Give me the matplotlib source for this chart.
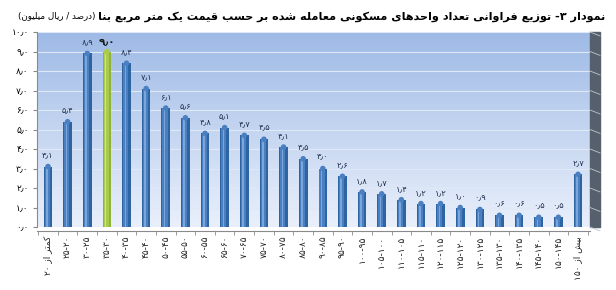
import matplotlib
matplotlib.use("Agg")
import matplotlib.pyplot as plt
import matplotlib.transforms as mtrans
import numpy as np
from matplotlib.patches import Rectangle

# price bins (million rial per m2) and share of traded units (percent)
low_edge = 20
high_edge = 150
bin_edges = [20, 25, 30, 35, 40, 45, 50, 55, 60, 65, 70, 75, 80, 85, 90,
             95, 100, 105, 110, 115, 120, 125, 130, 135, 140, 145, 150]
values = [3.1, 5.4, 8.9, 9.0, 8.4, 7.1, 6.1, 5.6, 4.8, 5.1, 4.7, 4.5, 4.1, 3.5,
          3.0, 2.6, 1.8, 1.7, 1.4, 1.2, 1.2, 1.0, 0.9, 0.6, 0.6, 0.5, 0.5, 2.7]
highlight = 3
yticks = [0, 1, 2, 3, 4, 5, 6, 7, 8, 9, 10]

FA = str.maketrans("0123456789.", "۰۱۲۳۴۵۶۷۸۹٫")

def fa(s):
    return str(s).translate(FA)

# simple persian shaping, since matplotlib has no text layout for arabic script
FORMS = {
    'ا': ('\uFE8D', '\uFE8E', None, None),
    'ب': ('\uFE8F', '\uFE90', '\uFE91', '\uFE92'),
    'ت': ('\uFE95', '\uFE96', '\uFE97', '\uFE98'),
    'ح': ('\uFEA1', '\uFEA2', '\uFEA3', '\uFEA4'),
    'د': ('\uFEA9', '\uFEAA', None, None),
    'ر': ('\uFEAD', '\uFEAE', None, None),
    'ز': ('\uFEAF', '\uFEB0', None, None),
    'س': ('\uFEB1', '\uFEB2', '\uFEB3', '\uFEB4'),
    'ش': ('\uFEB5', '\uFEB6', '\uFEB7', '\uFEB8'),
    'ص': ('\uFEB9', '\uFEBA', '\uFEBB', '\uFEBC'),
    'ع': ('\uFEC9', '\uFECA', '\uFECB', '\uFECC'),
    'ف': ('\uFED1', '\uFED2', '\uFED3', '\uFED4'),
    'ق': ('\uFED5', '\uFED6', '\uFED7', '\uFED8'),
    'ل': ('\uFEDD', '\uFEDE', '\uFEDF', '\uFEE0'),
    'م': ('\uFEE1', '\uFEE2', '\uFEE3', '\uFEE4'),
    'ن': ('\uFEE5', '\uFEE6', '\uFEE7', '\uFEE8'),
    'ه': ('\uFEE9', '\uFEEA', '\uFEEB', '\uFEEC'),
    'و': ('\uFEED', '\uFEEE', None, None),
    'ی': ('\uFBFC', '\uFBFD', '\uFBFE', '\uFBFF'),
    'ک': ('\uFB8E', '\uFB8F', '\uFB90', '\uFB91'),
}

def rtl(text):
    out = []
    for i, ch in enumerate(text):
        if ch not in FORMS:
            out.append(ch)
            continue
        prev = text[i - 1] if i > 0 else ''
        nxt = text[i + 1] if i + 1 < len(text) else ''
        jp = prev in FORMS and FORMS[prev][2] is not None
        jn = FORMS[ch][2] is not None and nxt in FORMS
        idx = 3 if (jp and jn) else 1 if jp else 2 if jn else 0
        out.append(FORMS[ch][idx])
    s = ''.join(out)[::-1]
    # keep digit runs left to right
    res, run = [], []
    for ch in s:
        if ch in "۰۱۲۳۴۵۶۷۸۹٫":
            run.append(ch)
        else:
            res.extend(run[::-1]); run = []
            res.append(ch)
    res.extend(run[::-1])
    return ''.join(res)

labels = [rtl("کمتر از " + fa(low_edge))]
for a, b in zip(bin_edges[:-1], bin_edges[1:]):
    labels.append(fa(b) + "-" + fa(a))
labels.append(rtl("بیش از " + fa(high_edge)))

plt.rcParams['font.family'] = ['DejaVu Sans']

fig = plt.figure(figsize=(6.16, 2.90), dpi=100)
ax = fig.add_axes([37 / 616, 63 / 290, 553 / 616, 195 / 290])

x = np.arange(len(values))
ax.set_xlim(-0.56, len(values) - 0.39)
ax.set_ylim(0, 10)

# gradient background
grad = np.linspace(0, 1, 256).reshape(-1, 1)
top = np.array([158, 186, 230]) / 255
bot = np.array([234, 240, 251]) / 255
img = top * (1 - grad)[..., None] + bot * grad[..., None]
ax.imshow(img, extent=[-0.56, len(values) - 0.39, 0, 10], aspect='auto',
          origin='upper', zorder=0)

for t in yticks[1:]:
    ax.axhline(t, color='#dfe8f6', lw=0.8, zorder=1)

colors = ['#8fb43c' if i == highlight else '#2f64a3' for i in range(len(values))]
mids = ['#a9ca4c' if i == highlight else '#4a80c2' for i in range(len(values))]
lights = ['#cfe38a' if i == highlight else '#7aa6da' for i in range(len(values))]
ax.bar(x, values, width=0.44, color=colors, zorder=2)
ax.bar(x - 0.04, values, width=0.26, color=mids, zorder=3)
ax.bar(x - 0.06, values, width=0.08, color=lights, zorder=4)
ax.scatter(x, values, s=16, marker='o', c=mids, zorder=5, linewidths=0)

for i, v in enumerate(values):
    txt = ("%.1f" % v).translate(FA)
    if i == highlight:
        ax.annotate(txt, (i, v), xytext=(0, 3), textcoords='offset points',
                    ha='center', va='bottom', fontsize=7.5, fontweight='bold',
                    color='#1a1a1a', zorder=6)
    else:
        ax.annotate(txt, (i, v), xytext=(0, 5), textcoords='offset points',
                    ha='center', va='bottom', fontsize=6, color='#1f3050', zorder=6)

ax.tick_params(axis='x', which='minor', length=3, color='#8a8a8a')
ax.tick_params(axis='y', length=3, color='#8a8a8a', pad=3)

ax.set_yticks(yticks)
ax.set_yticklabels([("%.1f" % t).translate(FA) for t in yticks], fontsize=6.5)
ax.set_xticks([])
ax.set_xticks(np.arange(len(values) + 1) - 0.5, minor=True)

# category labels, rotated, below the floor
trans = mtrans.blended_transform_factory(ax.transData, ax.transAxes)
for i, lab in enumerate(labels):
    ax.text(i, -0.045, lab, transform=trans, rotation=90, rotation_mode='default',
            ha='center', va='top', fontsize=6.5, color='#222222')

for s in ['top', 'right']:
    ax.spines[s].set_visible(False)
ax.spines['left'].set_color('#8a8a8a')
ax.spines['bottom'].set_color('#8a8a8a')
ax.spines['bottom'].set_position(('outward', 3))

# right side wall
wall = Rectangle((1.0, 0.0), 10 / 553, 1.0, transform=ax.transAxes,
                 color='#56606c', clip_on=False, zorder=1)
ax.add_patch(wall)
for t in yticks:
    ax.plot([1.0, 1.0 + 10 / 553], [t / 10, t / 10 - 0.02], transform=ax.transAxes,
            color='#c0c6ce', lw=0.6, clip_on=False, zorder=2)

title = rtl("نمودار ۳- توزیع فراوانی تعداد واحدهای مسکونی معامله شده بر حسب قیمت یک متر مربع بنا")
fig.text(605 / 616, 1 - 17 / 290, title, ha='right', va='center',
         fontsize=8.1, fontweight='bold')
sub = "(" + rtl("میلیون") + " " + rtl("ریال") + " / " + rtl("درصد") + ")"
fig.text(96 / 616, 1 - 16 / 290, sub, ha='right', va='center', fontsize=6.3)

fig.savefig("out.png", dpi=100)
